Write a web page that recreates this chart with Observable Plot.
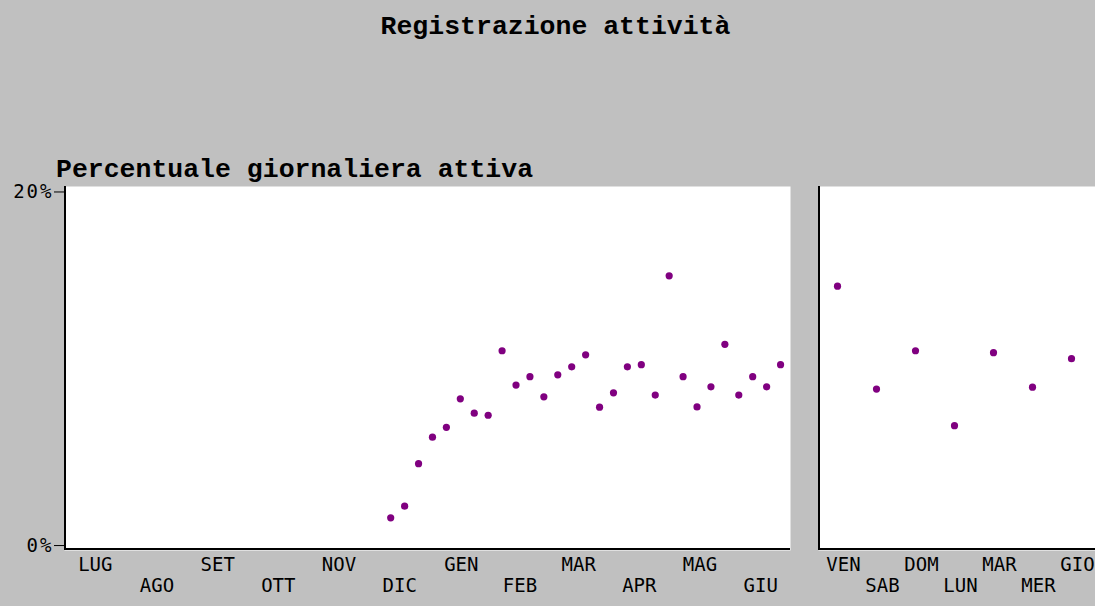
<!DOCTYPE html>
<html><head><meta charset="utf-8">
<script src="https://cdn.jsdelivr.net/npm/d3@7"></script>
<script src="https://cdn.jsdelivr.net/npm/@observablehq/plot@0.6"></script>
<style>
html,body{margin:0;padding:0;background:#c0c0c0;width:1095px;height:606px;overflow:hidden;}
#title{position:absolute;left:0;width:1111px;top:11px;text-align:center;font:bold 26.5px "Liberation Mono";line-height:32px;color:#000;}
#subtitle{position:absolute;left:56px;top:154px;font:bold 26.5px "Liberation Mono";line-height:32px;color:#000;}
#left{position:absolute;left:0;top:180px;}
#right{position:absolute;left:790px;top:180px;}
svg{overflow:visible;}
.ytick text{letter-spacing:2px;}
</style></head><body>
<div id="title">Registrazione attività</div>
<div id="subtitle">Percentuale giornaliera attiva</div>
<div id="left"></div><div id="right"></div>
<script>
// ---- data ----
const weekDates = ["2018-12-12","2018-12-19","2018-12-26","2019-01-02","2019-01-09","2019-01-16","2019-01-23","2019-01-30",
  "2019-02-06","2019-02-13","2019-02-20","2019-02-27","2019-03-06","2019-03-13","2019-03-20","2019-03-27",
  "2019-04-03","2019-04-10","2019-04-17","2019-04-24","2019-05-01","2019-05-08","2019-05-15","2019-05-22",
  "2019-05-29","2019-06-05","2019-06-12","2019-06-19","2019-06-26"];
const weeklyValues = [1.57,2.23,4.63,6.13,6.69,8.30,7.49,7.37,
  11.02,9.08,9.55,8.41,9.66,10.11,10.79,7.83,
  8.64,10.11,10.23,8.51,15.26,9.55,7.84,8.98,
  11.38,8.51,9.55,8.98,10.23];
const dayLabels = ["VEN","SAB","DOM","LUN","MAR","MER","GIO"];
const dayValues = [14.67,8.85,11.02,6.78,10.91,8.96,10.57];
const monthLabels = ["LUG","AGO","SET","OTT","NOV","DIC","GEN","FEB","MAR","APR","MAG","GIU"];
const periodStart = "2018-07-01";
const periodEnd = "2019-07-01";
const yTicks = [0, 20];
const yDomain = [-0.28, 20.31];

// ---- derived tables ----
const period = [new Date(periodStart), new Date(periodEnd)];
const weekly = weekDates.map((d, i) => ({date: new Date(d), value: weeklyValues[i]}));
const daily = dayLabels.map((d, i) => ({day: d, value: dayValues[i]}));
const months = d3.utcMonths(period[0], period[1]).map((s, i) => ({
  mid: new Date((+s + +d3.utcMonth.offset(s, 1)) / 2), label: monthLabels[i], row: i % 2
}));
const days = dayLabels.map((d, i) => ({day: d, row: i % 2}));

const purple = "#800080";
const font = {background: "transparent", fontFamily: "'DejaVu Sans Mono', monospace", fontSize: "19px", color: "#000"};

const edges = (index, scales, values, dims) => {
  const {marginLeft, marginTop, marginRight, marginBottom, width, height} = dims;
  return d3.create("svg:path")
    .attr("d", `M${marginLeft + 1},${marginTop}V${height - marginBottom - 1}H${width - marginRight}`)
    .attr("fill", "none").attr("stroke", "#000").attr("stroke-width", 2)
    .attr("shape-rendering", "crispEdges").node();
};

const row1 = 20, row2 = 41;

const left = Plot.plot({
  width: 790, height: 426, marginLeft: 64, marginRight: 0, marginTop: 6, marginBottom: 56,
  style: font,
  x: {type: "utc", domain: period, axis: null},
  y: {domain: yDomain},
  marks: [
    Plot.frame({fill: "white", stroke: null}),
    Plot.axisY({ticks: yTicks, tickFormat: d => d + "%", tickSize: 10, tickPadding: 1, label: null, fontSize: 19, className: "ytick"}),
    Plot.dot(weekly, {x: "date", y: "value", r: 3.6, fill: purple, stroke: null}),
    Plot.text(months.filter(m => m.row === 0), {x: "mid", text: "label", frameAnchor: "bottom", dy: row1, fontSize: 19}),
    Plot.text(months.filter(m => m.row === 1), {x: "mid", text: "label", frameAnchor: "bottom", dy: row2, fontSize: 19}),
    edges
  ]
});
document.getElementById("left").append(left);

const right = Plot.plot({
  width: 305, height: 426, marginLeft: 28, marginRight: 0, marginTop: 6, marginBottom: 56,
  style: font,
  x: {type: "point", domain: dayLabels, range: [46, 281], padding: 0, axis: null},
  y: {domain: yDomain, axis: null},
  marks: [
    Plot.frame({fill: "white", stroke: null}),
    Plot.dot(daily, {x: "day", y: "value", r: 3.6, fill: purple, stroke: null}),
    Plot.text(days.filter(d => d.row === 0), {x: "day", text: "day", frameAnchor: "bottom", dy: row1, dx: 6, fontSize: 19}),
    Plot.text(days.filter(d => d.row === 1), {x: "day", text: "day", frameAnchor: "bottom", dy: row2, dx: 6, fontSize: 19}),
    edges
  ]
});
document.getElementById("right").append(right);
</script>
</body></html>
